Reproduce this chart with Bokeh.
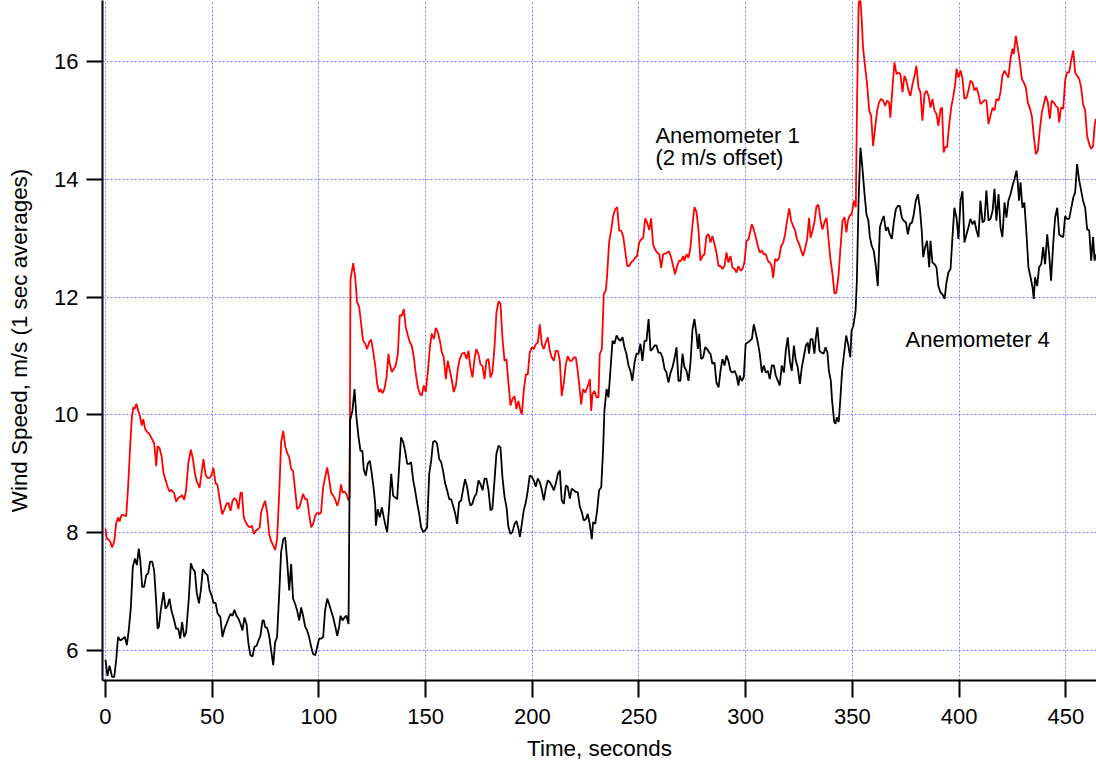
from bokeh.plotting import figure
from bokeh.models import Label, FixedTicker, Range1d
from bokeh.embed import file_html
from bokeh.resources import INLINE

# ---- data (time in s, wind speed in m/s) ----
anem4_t = [0, 0.9, 1.9, 3.1, 4.1, 5.0, 5.9, 7.0, 8.1, 9.1, 10.0, 10.9, 11.9, 12.8, 13.8, 14.7, 15.6, 16.3, 17.2, 18.1,
           19.1, 20.0, 20.9, 21.9, 22.8, 23.8, 24.4, 25.0, 25.9, 27.2, 28.1, 29.1, 30.0, 30.9, 32.2, 33.1, 34.1, 35.0, 35.9, 36.9,
           37.8, 39.1, 40.0, 40.9, 41.9, 42.8, 43.8, 44.7, 45.6, 46.9, 47.8, 48.8, 49.7, 50.6, 51.6, 52.5, 53.8, 54.8, 55.8, 56.7,
           57.6, 58.6, 59.5, 60.4, 61.4, 62.3, 63.3, 64.2, 65.1, 66.1, 67.0, 67.9, 68.9, 69.8, 70.8, 71.7, 72.6, 73.6, 74.2, 74.8,
           75.8, 76.7, 77.6, 78.6, 79.5, 80.4, 81.4, 82.3, 83.3, 84.2, 85.1, 86.1, 87.0, 87.9, 88.9, 89.8, 90.8, 91.7, 92.6, 93.6,
           94.5, 95.4, 96.4, 97.3, 98.3, 99.2, 100.1, 101.0, 102.0, 102.9, 103.9, 104.8, 105.7, 106.7, 107.6, 108.6, 109.5, 110.1, 111.1, 112.0,
           112.9, 113.9, 114.6, 115.7, 116.7, 117.6, 118.6, 119.5, 120.4, 121.0, 122.0, 122.9, 123.9, 124.8, 125.7, 126.4, 126.7, 127.6, 128.5, 129.5,
           130.4, 131.4, 132.0, 132.9, 133.9, 134.8, 135.7, 136.7, 137.6, 138.5, 139.5, 140.4, 141.4, 142.3, 143.2, 144.2, 145.1, 146.1, 147.0, 147.9,
           148.9, 149.8, 150.7, 151.7, 152.6, 153.5, 154.5, 155.4, 156.4, 157.3, 158.2, 159.2, 160.1, 161.1, 162.0, 162.9, 163.9, 164.8, 165.7, 166.7,
           167.6, 168.5, 169.5, 170.4, 171.0, 171.9, 172.9, 173.8, 174.8, 175.7, 176.7, 177.6, 178.5, 179.5, 180.4, 181.3, 182.3, 183.2, 184.2, 185.1,
           186.0, 187.0, 187.9, 188.8, 189.8, 190.7, 191.7, 192.6, 193.5, 194.2, 195.1, 196.0, 197.0, 197.9, 198.8, 199.8, 200.7, 201.6, 202.6, 203.5,
           204.5, 205.4, 206.3, 207.3, 208.2, 209.1, 210.1, 211.0, 212.0, 212.9, 213.8, 214.8, 215.7, 216.6, 217.6, 218.5, 219.5, 220.4, 221.3, 222.3,
           223.2, 224.1, 225.1, 226.0, 226.9, 227.9, 228.5, 229.5, 230.4, 231.3, 232.3, 233.2, 233.8, 234.8, 235.7, 236.6, 237.6, 238.5, 239.5, 240.4,
           241.3, 242.3, 243.2, 244.1, 245.1, 246.0, 246.9, 247.9, 248.8, 249.8, 250.7, 251.6, 252.6, 253.5, 254.5, 255.4, 256.3, 257.3, 258.2, 259.1,
           260.1, 261.0, 262.0, 262.9, 263.8, 264.8, 265.7, 266.6, 267.6, 268.5, 269.4, 270.4, 271.3, 272.3, 273.2, 274.1, 275.1, 276.0, 277.0, 277.6,
           278.2, 279.1, 280.1, 281.0, 281.9, 282.9, 283.5, 284.4, 285.4, 286.3, 287.3, 288.2, 289.1, 290.1, 291.0, 291.9, 292.9, 293.8, 294.8, 295.7,
           296.6, 297.2, 298.2, 299.1, 300.0, 301.0, 301.9, 302.9, 303.8, 304.8, 305.7, 306.6, 307.6, 308.5, 309.4, 310.4, 311.3, 312.2, 313.2, 314.1,
           315.1, 316.0, 316.9, 317.9, 318.8, 319.7, 320.7, 321.6, 322.6, 323.5, 324.4, 325.4, 326.3, 327.2, 328.2, 329.1, 329.7, 330.4, 331.3, 332.2,
           332.9, 333.6, 334.6, 335.5, 336.5, 337.4, 338.3, 339.0, 339.9, 340.5, 341.5, 342.1, 342.7, 343.6, 344.3, 345.2, 346.1, 347.1, 348.0, 349.0,
           349.6, 350.5, 351.5, 352.1, 352.9, 353.8, 354.7, 355.7, 356.6, 357.5, 358.2, 359.1, 360.0, 361.0, 361.9, 362.9, 363.8, 364.7, 365.7, 366.6,
           367.5, 368.5, 369.4, 370.4, 371.3, 372.2, 373.2, 374.1, 375.1, 376.0, 376.9, 377.9, 378.8, 379.7, 380.7, 381.6, 382.5, 383.2, 384.1, 385.0,
           386.0, 386.6, 387.5, 388.5, 389.4, 390.3, 391.3, 392.2, 393.2, 394.1, 395.0, 396.0, 396.9, 397.8, 398.8, 399.7, 400.7, 401.6, 402.5, 403.5,
           404.4, 405.3, 406.3, 407.2, 408.2, 409.1, 410.0, 411.0, 411.9, 412.8, 413.8, 414.7, 415.7, 416.6, 417.5, 418.5, 419.4, 420.3, 421.3, 422.2,
           423.1, 424.1, 425.0, 426.0, 426.9, 427.5, 428.1, 428.8, 429.7, 430.6, 431.6, 432.5, 433.5, 434.4, 435.0, 435.6, 436.6, 437.5, 438.5, 439.4,
           440.3, 441.3, 442.2, 443.1, 444.1, 445.0, 446.0, 446.9, 447.8, 448.8, 449.7, 450.6, 451.6, 452.5, 453.5, 454.4, 455.3, 456.3, 457.2, 458.1,
           459.1, 460.0, 461.0, 461.9, 462.8, 463.5, 464.1]
anem4_v = [5.84, 5.57, 5.74, 5.55, 5.55, 5.83, 6.23, 6.17, 6.2, 6.23, 6.09, 6.34, 6.74, 7.42, 7.56, 7.45, 7.73, 7.53, 7.08, 7.08,
           7.28, 7.31, 7.51, 7.51, 7.36, 6.8, 6.37, 6.4, 6.68, 6.99, 6.71, 6.76, 6.88, 6.68, 6.51, 6.37, 6.37, 6.2, 6.48, 6.23,
           6.31, 6.91, 7.48, 7.39, 7.34, 6.97, 6.8, 7.02, 7.38, 7.31, 7.28, 7.02, 6.94, 6.81, 6.81, 6.63, 6.57, 6.23, 6.37, 6.45,
           6.54, 6.62, 6.59, 6.69, 6.59, 6.54, 6.45, 6.34, 6.56, 6.45, 6.11, 5.92, 5.9, 6.06, 6.08, 6.17, 6.25, 6.51, 6.51, 6.4,
           6.38, 6.25, 6.01, 5.75, 6.14, 6.23, 6.96, 7.67, 7.89, 7.92, 7.53, 7.02, 7.47, 6.88, 6.79, 6.68, 6.51, 6.73, 6.59, 6.4,
           6.34, 6.23, 6.06, 5.94, 5.92, 6.06, 6.2, 6.2, 6.23, 6.68, 6.88, 6.79, 6.68, 6.56, 6.42, 6.25, 6.4, 6.59, 6.51, 6.56,
           6.59, 6.45, 9.9, 10.07, 10.44, 9.96, 9.62, 9.39, 9.39, 9.08, 8.97, 9.17, 9.22, 9.0, 8.74, 8.49, 8.12, 8.4, 8.26, 8.43,
           8.26, 8.09, 8.01, 8.43, 9.0, 8.63, 8.6, 8.57, 9.11, 9.62, 9.54, 9.39, 9.17, 9.17, 9.2, 8.89, 8.72, 8.49, 8.32, 8.09,
           8.01, 8.04, 8.09, 9.0, 9.22, 9.54, 9.56, 9.51, 9.25, 9.2, 9.05, 8.83, 8.72, 8.57, 8.57, 8.46, 8.32, 8.15, 8.52, 8.55,
           8.74, 8.91, 8.77, 8.55, 8.46, 8.49, 8.61, 8.66, 8.89, 8.83, 8.72, 8.92, 8.92, 8.72, 8.38, 8.41, 8.89, 9.34, 9.48, 9.45,
           8.95, 8.61, 8.44, 8.1, 7.98, 8.01, 8.15, 8.2, 8.07, 7.93, 8.15, 8.38, 8.52, 8.72, 8.97, 8.95, 8.89, 8.78, 8.92, 8.86,
           8.72, 8.55, 8.75, 8.89, 8.86, 8.8, 8.72, 8.83, 9.0, 9.06, 8.55, 8.49, 8.8, 8.78, 8.58, 8.75, 8.72, 8.69, 8.69, 8.44,
           8.35, 8.21, 8.23, 8.32, 8.15, 7.89, 8.18, 8.15, 8.38, 8.72, 8.77, 9.42, 10.07, 10.44, 10.3, 10.75, 11.26, 11.21, 11.35, 11.29,
           11.26, 11.32, 11.15, 11.04, 10.84, 10.75, 10.58, 10.89, 11.04, 11.04, 11.21, 10.92, 11.26, 11.26, 11.63, 11.09, 11.12, 11.18, 11.18, 11.06,
           11.06, 10.98, 10.78, 10.72, 10.55, 10.72, 10.81, 10.95, 11.15, 10.58, 10.58, 11.04, 10.81, 10.75, 10.58, 10.87, 11.46, 11.63, 11.35, 11.12,
           11.38, 10.95, 10.98, 11.15, 11.12, 11.06, 11.04, 10.87, 10.89, 10.55, 10.47, 10.75, 10.95, 10.84, 11.01, 10.92, 10.75, 10.72, 10.75, 10.67,
           10.5, 10.67, 10.58, 10.64, 11.21, 11.23, 11.26, 11.29, 11.54, 11.38, 11.23, 11.04, 10.72, 10.84, 10.72, 10.75, 10.61, 10.84, 10.84, 10.67,
           10.58, 10.5, 10.84, 10.72, 11.09, 11.32, 10.92, 10.75, 11.18, 10.92, 10.81, 10.53, 10.81, 10.98, 11.18, 11.23, 11.04, 11.29, 11.29, 11.04,
           11.32, 11.49, 11.09, 11.06, 11.04, 11.15, 11.06, 10.75, 10.58, 10.24, 9.88, 9.85, 9.96, 9.88, 10.24, 10.75, 11.04, 11.35, 11.2, 10.98,
           11.43, 11.52, 11.77, 12.28, 13.64, 14.54, 14.2, 13.75, 13.41, 13.3, 13.02, 12.87, 12.79, 12.53, 12.19, 13.19, 13.3, 13.38, 13.13, 13.19,
           13.07, 12.99, 13.27, 13.5, 13.55, 13.55, 13.35, 13.3, 13.27, 13.07, 13.24, 13.27, 13.41, 13.64, 13.75, 13.52, 13.13, 12.68, 12.85, 12.96,
           12.51, 12.96, 12.59, 12.56, 12.51, 12.19, 12.08, 12.05, 11.97, 12.25, 12.42, 12.48, 13.02, 13.52, 13.35, 12.99, 13.64, 13.8, 12.93, 13.07,
           13.19, 13.33, 13.24, 13.3, 13.13, 13.02, 13.64, 13.27, 13.3, 13.81, 13.3, 13.33, 13.47, 13.84, 13.3, 13.75, 13.19, 13.02, 13.61, 13.35,
           13.64, 13.75, 13.89, 14.01, 14.15, 13.95, 13.64, 13.95, 13.52, 13.61, 13.07, 12.51, 12.34, 12.17, 11.97, 12.34, 12.19, 12.51, 12.56, 12.85,
           12.56, 13.07, 12.73, 12.28, 12.9, 13.35, 13.52, 13.07, 13.04, 13.02, 13.38, 13.33, 13.33, 13.5, 13.69, 13.78, 14.26, 13.98, 13.81, 13.64,
           13.52, 13.16, 13.13, 12.62, 13.02, 12.62, 12.73]

anem1_t = [0, 0.6, 1.6, 2.2, 3.1, 4.1, 5.0, 5.9, 6.6, 7.5, 8.4, 9.7, 10.6, 11.7, 12.3, 13.0, 13.6, 14.5, 15.1, 16.1,
           17.0, 17.7, 18.6, 19.5, 20.5, 21.4, 22.8, 23.8, 24.4, 25.3, 26.3, 27.2, 28.1, 29.1, 30.0, 30.9, 32.2, 33.1, 34.1, 35.0,
           35.9, 36.9, 37.8, 38.8, 40.0, 40.9, 41.9, 42.8, 44.1, 45.0, 45.9, 46.9, 47.8, 48.8, 49.7, 50.6, 51.6, 52.5, 53.4, 54.7,
           55.8, 56.7, 57.6, 58.6, 59.5, 60.4, 61.4, 62.3, 63.3, 63.9, 64.8, 65.7, 66.7, 67.6, 68.6, 69.5, 70.4, 71.4, 72.3, 72.9,
           73.9, 74.8, 75.8, 76.7, 77.6, 78.6, 79.5, 80.4, 81.4, 82.3, 83.3, 84.2, 85.1, 86.1, 87.0, 87.9, 88.9, 89.8, 90.8, 91.7,
           92.6, 93.6, 94.5, 95.4, 96.4, 97.3, 98.3, 99.2, 100.1, 101.0, 102.0, 102.9, 103.9, 104.8, 105.7, 106.7, 107.6, 108.6, 109.5, 110.4,
           111.1, 112.0, 112.9, 113.9, 114.4, 114.8, 116.1, 117.0, 117.9, 118.9, 119.8, 120.7, 121.7, 122.6, 123.6, 124.5, 125.4, 126.4, 127.3, 128.2,
           128.9, 129.8, 130.7, 131.7, 132.6, 133.2, 134.2, 135.1, 136.0, 137.0, 137.9, 138.9, 139.8, 140.7, 141.7, 142.6, 143.5, 144.5, 145.4, 146.4,
           147.3, 148.2, 149.2, 150.1, 151.1, 152.0, 152.9, 153.9, 154.8, 155.7, 156.7, 157.6, 158.5, 159.5, 160.4, 161.4, 162.3, 163.2, 164.2, 165.1,
           166.0, 167.0, 168.2, 169.2, 170.1, 171.0, 172.0, 172.9, 173.8, 174.8, 175.7, 176.7, 177.6, 178.5, 179.5, 180.4, 181.3, 182.3, 183.2, 184.2,
           185.1, 186.0, 187.0, 187.9, 188.8, 189.8, 190.7, 191.7, 192.6, 193.5, 194.5, 195.1, 196.0, 197.0, 197.9, 198.8, 199.8, 200.7, 201.6, 202.6,
           203.5, 204.5, 205.4, 206.3, 207.3, 208.2, 209.1, 210.1, 211.0, 212.0, 212.9, 213.8, 214.8, 215.7, 216.6, 217.6, 218.5, 219.5, 220.4, 221.3,
           222.3, 222.9, 223.8, 224.8, 225.4, 226.3, 227.0, 227.6, 228.2, 229.1, 230.1, 231.0, 231.6, 232.6, 233.5, 234.5, 235.1, 236.0, 237.0, 237.9,
           238.8, 239.8, 240.7, 241.6, 242.6, 243.5, 244.5, 245.4, 246.3, 247.3, 248.2, 249.1, 250.1, 251.0, 252.0, 252.9, 253.8, 254.8, 255.7, 256.6,
           257.6, 258.5, 259.5, 260.4, 261.3, 262.3, 263.2, 264.1, 265.1, 266.0, 266.9, 267.9, 268.8, 269.8, 270.7, 271.3, 272.3, 273.2, 274.1, 275.1,
           276.0, 277.0, 277.9, 278.8, 279.8, 280.7, 281.6, 282.6, 283.5, 284.4, 285.4, 286.3, 287.3, 288.2, 289.1, 290.1, 291.0, 291.9, 292.9, 293.8,
           294.8, 295.7, 296.6, 297.6, 298.5, 299.4, 300.4, 301.3, 302.2, 302.9, 303.8, 304.8, 305.7, 306.6, 307.6, 308.5, 309.4, 310.4, 311.3, 312.2,
           312.9, 313.8, 314.8, 315.7, 316.6, 317.6, 318.5, 319.4, 320.4, 321.3, 322.2, 323.2, 324.1, 325.1, 326.0, 326.9, 327.9, 328.8, 329.7, 330.4,
           331.3, 332.2, 333.2, 334.1, 335.1, 336.0, 336.9, 337.9, 338.8, 339.7, 340.7, 341.6, 342.5, 343.5, 344.4, 345.4, 346.3, 347.2, 347.9, 348.8,
           349.7, 350.7, 351.6, 352.2, 352.9, 353.5, 354.4, 355.0, 356.0, 356.9, 357.9, 358.8, 359.7, 360.7, 361.6, 362.5, 363.5, 364.4, 365.4, 366.3,
           367.2, 367.8, 368.8, 369.7, 370.7, 371.6, 372.5, 373.5, 374.4, 375.3, 376.3, 377.2, 378.2, 379.1, 380.0, 381.0, 381.9, 382.8, 383.8, 384.7,
           385.7, 386.6, 387.5, 388.5, 389.4, 390.3, 391.3, 392.0, 392.8, 393.5, 394.4, 395.3, 396.3, 397.2, 398.2, 398.8, 399.7, 400.7, 401.6, 402.5,
           403.5, 404.4, 405.3, 406.3, 407.2, 408.2, 409.1, 410.0, 411.0, 411.9, 412.8, 413.8, 414.7, 415.7, 416.6, 417.5, 418.5, 419.4, 420.3, 421.3,
           422.2, 423.1, 424.1, 425.0, 425.6, 426.6, 427.5, 428.5, 429.4, 430.3, 431.3, 432.2, 433.1, 434.1, 435.0, 436.0, 436.9, 437.8, 438.8, 439.7,
           440.6, 441.6, 442.5, 443.4, 444.4, 445.3, 446.3, 446.9, 447.8, 448.8, 449.7, 450.6, 451.6, 452.5, 453.5, 454.4, 455.3, 456.3, 457.2, 458.1,
           459.1, 460.0, 461.0, 461.9, 462.8, 463.5, 464.1]
anem1_v = [8.07, 7.9, 7.88, 7.85, 7.75, 7.85, 8.16, 8.26, 8.19, 8.3, 8.3, 8.28, 8.78, 9.56, 9.93, 10.13, 10.1, 10.19, 10.1, 9.99,
           9.82, 9.93, 9.76, 9.71, 9.68, 9.62, 9.52, 9.13, 9.47, 9.44, 9.3, 9.01, 8.9, 8.78, 8.7, 8.73, 8.67, 8.53, 8.59, 8.61,
           8.64, 8.56, 8.73, 9.18, 9.41, 9.27, 9.01, 8.87, 8.76, 9.01, 9.25, 8.98, 8.93, 8.93, 8.98, 9.1, 8.84, 8.81, 8.59, 8.31,
           8.4, 8.49, 8.51, 8.37, 8.54, 8.59, 8.55, 8.4, 8.68, 8.68, 8.26, 8.18, 8.12, 8.09, 8.12, 7.98, 8.03, 8.06, 8.09, 8.34,
           8.46, 8.54, 8.34, 7.98, 7.86, 7.78, 7.71, 7.89, 8.66, 9.53, 9.73, 9.47, 9.36, 9.28, 9.08, 9.05, 8.71, 8.4, 8.43, 8.54,
           8.66, 8.57, 8.57, 8.32, 8.09, 8.15, 8.29, 8.34, 8.32, 8.34, 8.77, 8.94, 9.11, 8.91, 8.68, 8.63, 8.57, 8.46, 8.57, 8.82,
           8.68, 8.7, 8.66, 8.55, 8.6, 12.3, 12.58, 12.34, 11.92, 11.83, 11.55, 11.26, 11.21, 11.12, 11.24, 11.28, 11.09, 10.84, 10.53, 10.39,
           10.44, 10.37, 10.44, 10.64, 11.04, 10.87, 10.73, 10.78, 10.84, 11.04, 11.69, 11.69, 11.8, 11.49, 11.35, 11.24, 11.18, 10.98, 10.7, 10.47,
           10.36, 10.33, 10.5, 10.39, 10.75, 11.15, 11.38, 11.29, 11.48, 11.41, 11.26, 11.07, 10.98, 10.61, 10.92, 10.75, 10.59, 10.39, 10.5, 10.78,
           10.95, 11.04, 11.06, 10.95, 11.09, 10.81, 10.64, 10.95, 11.12, 11.03, 10.86, 10.83, 10.61, 10.92, 10.95, 10.64, 10.72, 11.15, 11.74, 11.93,
           11.89, 11.32, 10.92, 10.95, 10.55, 10.16, 10.27, 10.32, 10.1, 10.24, 10.07, 10.01, 10.41, 10.69, 10.69, 11.06, 11.15, 11.12, 11.2, 11.23,
           11.54, 11.2, 11.12, 11.23, 11.32, 11.09, 10.98, 10.92, 11.09, 11.09, 10.92, 10.32, 10.55, 10.86, 11.0, 10.92, 10.92, 10.98, 10.98, 10.75,
           10.41, 10.18, 10.44, 10.38, 10.44, 10.52, 10.61, 10.07, 10.35, 10.41, 10.3, 10.3, 11.03, 11.12, 12.05, 12.12, 12.39, 12.93, 13.15, 13.38,
           13.49, 13.53, 13.13, 13.13, 13.04, 12.79, 12.53, 12.53, 12.59, 12.62, 12.67, 12.7, 12.93, 12.98, 13.01, 13.34, 13.27, 13.14, 13.34, 12.9,
           12.81, 12.76, 12.73, 12.5, 12.73, 12.74, 12.76, 12.78, 12.67, 12.53, 12.39, 12.53, 12.62, 12.62, 12.7, 12.62, 12.73, 12.67, 12.84, 13.24,
           13.53, 13.44, 13.13, 12.62, 12.7, 12.73, 13.04, 13.07, 12.93, 13.04, 12.9, 12.76, 12.53, 12.53, 12.48, 12.53, 12.76, 12.59, 12.7, 12.5,
           12.48, 12.42, 12.53, 12.45, 12.48, 12.59, 12.96, 12.98, 13.13, 13.24, 13.15, 13.01, 12.87, 12.76, 12.79, 12.73, 12.73, 12.62, 12.59, 12.53,
           12.33, 12.65, 12.62, 12.67, 12.87, 12.93, 13.07, 13.3, 13.51, 13.3, 13.21, 13.13, 12.98, 12.9, 12.79, 12.7, 12.84, 12.98, 13.35, 13.01,
           13.13, 13.27, 13.55, 13.57, 13.3, 13.15, 13.27, 13.35, 13.0, 12.65, 12.39, 12.06, 12.08, 12.37, 12.82, 13.3, 13.36, 13.1, 13.3, 13.39,
           13.41, 13.64, 13.53, 15.34, 16.92, 17.2, 16.7, 16.24, 15.9, 15.62, 15.17, 15.08, 14.57, 14.89, 15.17, 15.31, 15.37, 15.34, 15.25, 15.34,
           15.31, 15.05, 15.56, 15.99, 15.79, 15.82, 15.79, 15.48, 15.76, 15.68, 15.51, 15.42, 15.62, 15.76, 15.93, 15.56, 15.48, 15.0, 15.45, 15.51,
           15.42, 15.22, 15.37, 15.17, 15.11, 14.91, 15.2, 15.22, 14.46, 14.55, 14.55, 14.91, 15.22, 15.39, 15.62, 15.88, 15.73, 15.85, 15.71, 15.37,
           15.39, 15.51, 15.68, 15.65, 15.51, 15.56, 15.45, 15.28, 15.31, 15.35, 15.34, 14.94, 15.08, 15.22, 15.17, 15.37, 15.34, 15.48, 15.76, 15.85,
           15.79, 15.73, 16.05, 16.22, 16.13, 16.44, 16.24, 15.99, 15.71, 15.65, 15.56, 15.31, 15.22, 15.08, 14.74, 14.43, 14.49, 14.83, 15.14, 15.28,
           15.42, 15.31, 15.03, 15.34, 15.31, 15.25, 15.22, 14.97, 15.22, 15.2, 15.68, 15.82, 15.82, 16.02, 16.19, 15.82, 15.76, 15.71, 15.56, 15.28,
           15.17, 14.74, 14.6, 14.52, 14.57, 14.91, 15.03]

x_ticks = [0, 50, 100, 150, 200, 250, 300, 350, 400, 450]
y_ticks = [6, 8, 10, 12, 14, 16]
x_label = "Time, seconds"
y_label = "Wind Speed, m/s (1 sec averages)"
note1 = ["Anemometer 1", "(2 m/s offset)"]
note4 = "Anemometer 4"

FONT = "Liberation Sans"

p = figure(width=1096, height=765, output_backend="svg", toolbar_location=None,
           x_range=Range1d(-1.4, 464.4), y_range=Range1d(5.49, 17.04),
           min_border_left=102, min_border_right=0, min_border_top=0, min_border_bottom=85)
p.outline_line_color = None
p.background_fill_color = "white"
p.border_fill_color = "white"

for ax in (p.xaxis[0], p.yaxis[0]):
    ax.axis_line_width = 2
    ax.axis_line_color = "black"
    ax.major_tick_line_width = 2
    ax.major_tick_line_color = "black"
    ax.major_tick_in = 0
    ax.major_tick_out = 16
    ax.minor_tick_line_color = None
    ax.major_label_text_font = FONT
    ax.major_label_text_font_size = "22px"
    ax.major_label_text_color = "black"
    ax.axis_label_text_font = FONT
    ax.axis_label_text_font_size = "22.4px"
    ax.axis_label_text_font_style = "normal"
    ax.axis_label_text_color = "black"

p.xaxis.ticker = FixedTicker(ticks=x_ticks)
p.yaxis.ticker = FixedTicker(ticks=y_ticks)
p.xaxis.axis_label = x_label
p.yaxis.axis_label = y_label
p.xaxis.major_tick_out = 17
p.xaxis.major_label_standoff = 11
p.xaxis.axis_label_standoff = 9
p.yaxis.major_label_standoff = 8
p.yaxis.axis_label_standoff = 19

for g in (p.xgrid[0], p.ygrid[0]):
    g.grid_line_color = "#7b7bff"
    g.grid_line_width = 1
    g.grid_line_dash = "2 2"

p.line(anem1_t, anem1_v, line_color="#ff0000", line_width=1.8)
p.line(anem4_t, anem4_v, line_color="black", line_width=1.8)

p.add_layout(Label(x=257.7, y=14.745, text=note1[0], text_font=FONT, text_font_size="22px",
                   text_color="black", text_baseline="alphabetic", text_align="left"))
p.add_layout(Label(x=257.7, y=14.365, text=note1[1], text_font=FONT, text_font_size="22px",
                   text_color="black", text_baseline="alphabetic", text_align="left"))
p.add_layout(Label(x=374.9, y=11.29, text=note4, text_font=FONT, text_font_size="22px",
                   text_color="black", text_baseline="alphabetic", text_align="left"))

open("out.html", "w").write(file_html(p, INLINE))
